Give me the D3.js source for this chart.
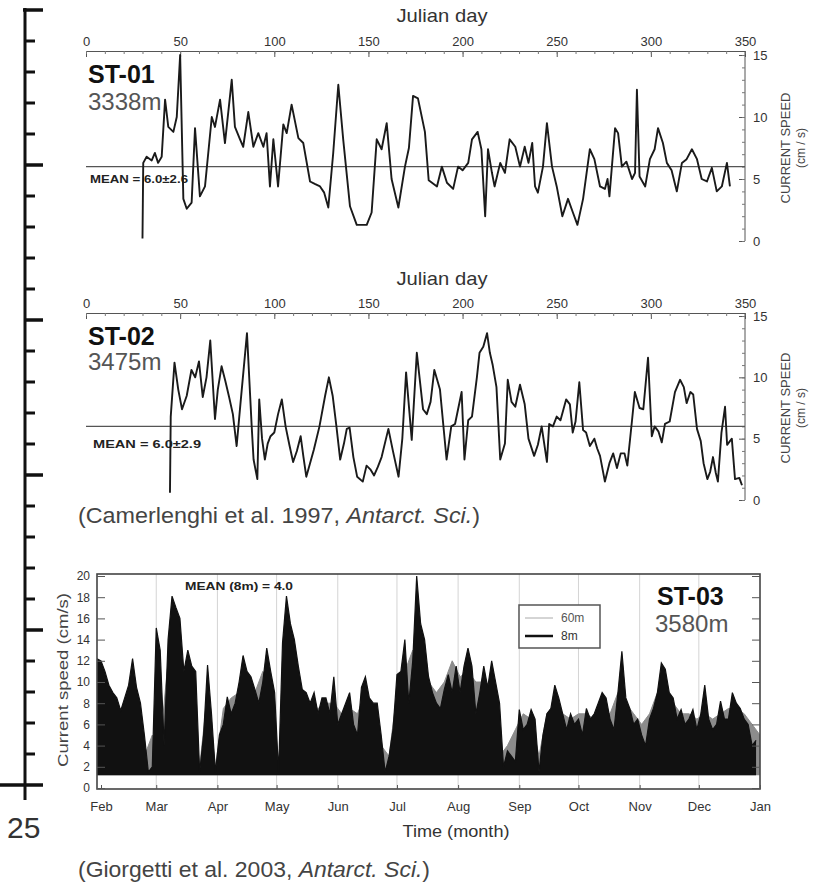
<!DOCTYPE html>
<html><head><meta charset="utf-8">
<script src="https://cdn.jsdelivr.net/npm/d3@7"></script>
<style>
body{margin:0;background:#fff}
svg text{font-family:"Liberation Sans",Arial,Helvetica,sans-serif}
</style>
</head><body>
<svg id="c" width="820" height="889"></svg>
<script>
// ---------------- DATA ----------------
const rulerDomain = [0, 25];
const rulerLabel = "25";

const julianTicks = [0, 50, 100, 150, 200, 250, 300, 350];
const speedTicks = [0, 5, 10, 15];

// ST-01 (3338 m) Julian day / current speed (cm/s)
const st01Day = [30,30.4,32.2,34.9,36.6,38.3,40.2,42,43.7,46.4,48.2,50,51.7,53.5,56.1,57.9,60.5,63.2,66.8,68.5,71.2,73.8,77.4,79.1,81.8,83.5,86.2,88.9,91.5,94.2,95.9,97.7,99.5,102,104.8,106.6,109.2,112.8,115.4,119,121.5,124.3,126.5,128.7,131.3,134,136.6,140.2,143.8,149.1,151.7,154.4,157,159.7,162.3,165.9,169.4,171.5,173.7,176.3,180,182,186.4,189,191.7,195,197.6,200,203,205,208,210,212,213.5,215.6,217,220,222.5,225,228,230.5,233,235,237,238.5,240,242.7,244.8,247.5,250,253,256,258.6,261,264,267.6,270,273,275.6,277,278,281,282.6,284.6,287,290,291.6,292.6,294,297,299.5,302,303.8,306.4,308.5,311,313.8,316.5,319,321.8,324.5,327,329.8,332.4,335,337.7,340.4,342];
const st01Speed = [0.2,6.3,6.8,6.5,7.1,6.3,6.8,11.4,9.2,8.8,10,15,3.4,2.6,3.1,9.1,3.6,4.4,10,9.2,11.4,7.9,13,9.2,8.2,7.6,10.4,7.6,8.7,7.6,8.7,4.4,8.2,4.4,9.4,8.7,11,8.3,7.9,4.8,4.6,4.4,3.9,2.7,7.1,12.6,8.2,2.8,1.3,1.3,2.3,8.2,7.4,9.5,5,2.7,6,7.5,11.7,11.5,8.8,4.9,4.4,6,4.7,4.2,6,5.7,6.3,8.2,8.8,7.4,2.0,7.4,5.5,4.4,6.3,5.5,8.2,7.6,6,7.6,6.3,7.9,4.4,3.9,6,9.5,6,4.4,2.0,3.4,2.3,1.3,3.4,7.4,6.6,4.4,4.2,5,3.6,9.1,8.7,6,6.4,5,5.5,12.2,5.2,4.4,6.6,7.4,9.1,7.9,6.3,5.7,4.0,6.3,6.6,7.4,6.6,5,4.8,5.9,4,4.4,6.3,4.4];
const st01Mean = 6.0;
const st01MeanLabel = "MEAN = 6.0±2.6";

// ST-02 (3475 m)
const st02Day = [44.6,45,47,49,51,53.5,56,58,60,62,64,66,68.5,70,72,74,76,78,80,82,85.5,88,89,91,92,93.5,95,96.5,98,100,102,104,106,108,110,112,114,115.5,117,119,121,124,127,129,131,133,135,137,138.5,140,142,144,147,149,151,153,155,157,160.6,163,166,168,170,173,175.7,179,181,183,185,188,191.5,194,196,199.5,201,203,205,207.6,209,211,213,214.5,216,218,220,222.5,224,226,228,230.5,233,235,238,240,242,244.8,246,248,250,252,255,257,258.5,260,262,264,265.6,267.6,270,271.5,273,275.6,278,280,282,284,286,287.5,290,291.5,294,296,298.5,300.5,302,304,305.8,307.5,310,312.8,315.5,317.5,319,321,322.5,324.5,326.5,328,330,331.5,333,334.5,335.6,337.5,339.4,340.5,342,343,344.7,347,348.4];
const st02Speed = [0.6,6.8,11.2,9,7.4,8.5,10.6,10,11.3,8.4,10,13,6.6,9,10.9,9.7,8.4,7,4.4,7.8,13.6,6,3.3,1.7,8.2,5,3.3,4.6,5.2,5.5,7,8.2,6,4.5,3.1,4,5.2,3.5,1.9,3,4.1,6,8.5,10,8.5,6,3.3,4.6,5.8,5.9,3.5,1.9,1.5,2.8,2.5,2,2.7,3.5,5.8,4,1.9,5,10.4,4.9,12,7.4,7,8,10.6,9,3.3,6,6.2,8.8,3.3,6.5,6.8,10,12,12.5,13.6,12,11,9.2,3.3,4.6,9.8,8,7.6,9.4,7.8,5,3.6,4.5,6,3.1,6.2,6,6.8,6.5,8.2,7.8,5.5,6.4,9.6,5.7,5.5,4.4,5,4.2,3.6,1.5,3,3.8,2.6,3.8,3.8,2.8,6.5,8.8,7.5,7.4,11.6,5.2,6,5.6,4.7,6.2,6.4,8.8,9.8,9.2,7.9,8.8,8.6,5.8,4.8,3,1.7,2.3,3.5,2.2,1.5,5.5,7.6,4.5,4.8,5,1.7,1.8,1.2];
const st02Mean = 6.0;
const st02MeanLabel = "MEAN = 6.0±2.9";

// ST-03 (3580 m): peak speeds read every 2 days (8 m) / 4 days (60 m), from 30 Jan
const st03Months = ["Feb","Mar","Apr","May","Jun","Jul","Aug","Sep","Oct","Nov","Dec","Jan"];
const st03SpeedTicks = [0,2,4,6,8,10,12,14,16,18,20];
const st03Peak8m = [
 12.2,12.0,11,9.7,9,8.5,7.3,8.5,9.7,12.2,
 9.5,8,5,1.5,2,15.1,13,4,14,18.1,
 17,16,11,13,11.5,11,1.5,5,11.6,7,
 1.5,5,6,8.6,7,8,10,12.5,11,10.5,
 9.3,8,10,13.2,11,9,1.5,13.7,18.1,15.5,
 14,11.5,9.3,9,8,9,7,8.5,8.5,7,
 10.5,6,7,8,9,6,5,9.5,10.5,8.5,
 8,8,5,1.5,3,5.5,10.7,11,14,8,
 12,20,15.5,14,10.5,9,8,7.5,9.3,10.7,
 9,11.5,9,11.5,13.2,11.5,7,9,11.5,9.5,
 12,10,8,2,3.5,3,2.5,7.4,5.5,6,
 7.4,6.5,1.5,5,7,7.5,9.7,8.5,7,5.5,
 7,6,6.5,5,7.5,6.5,7,8,9,8.5,
 6.5,5.5,9,12.9,8.5,7.5,6,6.5,5,4,
 6.5,7.5,9,11.8,11.2,9,8.5,6.5,7.4,6,
 6.5,7.4,5.5,7,9.7,6.5,5.5,6,8.2,6.5,
 6.5,9,8,7.5,6.5,6,4,4.5];
const st03Peak60m = [
 10,9,8,7,8,8,3,5,4,12,
 14,11,10,2,9,2,7.5,8.5,9,10,
 9,11,10,2,14,12,9,8,7.5,8,
 8,7,7.5,7,9,7,4,3,9,11,
 13,12,10,9,10,12,10.5,11,10,10,
 9,3,4,5.5,7,6.5,3,7,8,7,
 6.5,7,7,6.5,7.5,7,9,8,7,6,
 7,9,9.5,8,7,7,6.5,7,6.5,7,
 7.5,7.5,7,6,5];
const st03Floor = 1.2;
const st03MeanLabel = "MEAN (8m) = 4.0";
const st03Legend = ["60m", "8m"];

// ---------------- DRAW ----------------
const svg = d3.select("#c");
const FONT = '"Liberation Sans", Arial, Helvetica, sans-serif';

function styleAxis(g, size, fill, stroke) {
  g.attr("font-family", FONT).attr("font-size", size);
  g.selectAll("text").attr("fill", fill);
  g.selectAll("line").attr("stroke", stroke);
  g.selectAll("path.domain").attr("stroke", stroke);
}

// ---- left ruler ----
const ruler = d3.scaleLinear().domain(rulerDomain).range([10, 785]);
const gR = svg.append("g");
gR.append("line").attr("x1", 25).attr("x2", 25).attr("y1", 8).attr("y2", 800)
  .attr("stroke", "#111").attr("stroke-width", 3);
gR.selectAll("line.tk").data(d3.range(rulerDomain[0], rulerDomain[1] + 1)).join("line")
  .attr("class", "tk")
  .attr("x1", d => d === rulerDomain[1] ? 0 : (d === rulerDomain[0] ? 23 : 25))
  .attr("x2", d => d % 5 === 0 ? 43 : 35)
  .attr("y1", d => ruler(d)).attr("y2", d => ruler(d))
  .attr("stroke", "#111").attr("stroke-width", d => d % 5 === 0 ? 3.5 : 3);
gR.append("text").attr("x", 7).attr("y", 838).attr("font-size", 30).attr("fill", "#333")
  .text(rulerLabel);

// ---- ST-01 / ST-02 panels ----
const xJ = d3.scaleLinear().domain([0, 350]).range([86, 745]);

function julianPanel(cfg) {
  const y = d3.scaleLinear().domain([0, 15]).range([cfg.yZero, cfg.yTop]);
  const g = svg.append("g");
  g.append("text").attr("x", 442).attr("y", cfg.titleY).attr("text-anchor", "middle")
    .attr("font-size", 19).attr("fill", "#333").attr("textLength", 91)
    .attr("lengthAdjust", "spacingAndGlyphs").text("Julian day");
  const ax = g.append("g").attr("transform", `translate(0,${cfg.axisY})`)
    .call(d3.axisTop(xJ).tickValues(julianTicks).tickSizeInner(-6).tickSizeOuter(0).tickPadding(5));
  styleAxis(ax, 13, "#333", "#555");
  const axm = g.append("g").attr("transform", `translate(0,${cfg.axisY})`)
    .call(d3.axisTop(xJ).tickValues(d3.range(0, 351, 10)).tickSize(-3).tickFormat(""));
  axm.select(".domain").remove();
  styleAxis(axm, 13, "#333", "#777");
  g.append("line").attr("x1", 745).attr("x2", 745).attr("y1", cfg.axisY).attr("y2", y(0))
    .attr("stroke", "#555").attr("stroke-width", 1);
  const ay = g.append("g").attr("transform", "translate(745,0)")
    .call(d3.axisRight(y).tickValues(speedTicks).tickSizeInner(-6).tickSizeOuter(0).tickPadding(8));
  ay.select(".domain").remove();
  styleAxis(ay, 13, "#333", "#555");
  const aym = g.append("g").attr("transform", "translate(745,0)")
    .call(d3.axisRight(y).tickValues(d3.range(0, 16)).tickSize(-3).tickFormat(""));
  aym.select(".domain").remove();
  styleAxis(aym, 13, "#333", "#777");
  const cy = (y(0) + y(15)) / 2;
  g.append("text").attr("transform", `translate(790,${cy}) rotate(-90)`)
    .attr("text-anchor", "middle").attr("font-size", 13).attr("fill", "#444")
    .text("CURRENT SPEED");
  g.append("text").attr("transform", `translate(805,${cy}) rotate(-90)`)
    .attr("text-anchor", "middle").attr("font-size", 12).attr("fill", "#444")
    .text("(cm / s)");
  g.append("line").attr("x1", xJ(0)).attr("x2", xJ(350))
    .attr("y1", y(cfg.mean)).attr("y2", y(cfg.mean))
    .attr("stroke", "#555").attr("stroke-width", 1.2);
  g.append("text").attr("x", cfg.meanX).attr("y", cfg.meanY).attr("font-size", 10)
    .attr("font-weight", "bold").attr("fill", "#222")
    .attr("textLength", cfg.meanW).attr("lengthAdjust", "spacingAndGlyphs").text(cfg.meanLabel);
  const pts = d3.zip(cfg.days, cfg.speeds);
  g.append("path").datum(pts)
    .attr("d", d3.line().x(d => xJ(d[0])).y(d => y(d[1])))
    .attr("fill", "none").attr("stroke", "#1a1a1a").attr("stroke-width", 1.9)
    .attr("stroke-linejoin", "round");
  g.append("text").attr("x", 88).attr("y", cfg.nameY).attr("font-size", 25)
    .attr("font-weight", "bold").attr("fill", "#111").text(cfg.name);
  g.append("text").attr("x", 88).attr("y", cfg.depthY).attr("font-size", 24)
    .attr("fill", "#555").text(cfg.depth);
}

julianPanel({titleY: 22, axisY: 51, yZero: 241, yTop: 55, mean: st01Mean,
  meanX: 90, meanY: 183, meanW: 98, meanLabel: st01MeanLabel,
  days: st01Day, speeds: st01Speed, name: "ST-01", depth: "3338m", nameY: 83, depthY: 110});
julianPanel({titleY: 285, axisY: 313, yZero: 500, yTop: 316, mean: st02Mean,
  meanX: 93, meanY: 448, meanW: 108, meanLabel: st02MeanLabel,
  days: st02Day, speeds: st02Speed, name: "ST-02", depth: "3475m", nameY: 345, depthY: 370});

function citation(y, pre, ital, len) {
  const t = svg.append("text").attr("x", 78).attr("y", y).attr("font-size", 22).attr("fill", "#444")
    .attr("textLength", len).attr("lengthAdjust", "spacingAndGlyphs");
  t.append("tspan").text(pre);
  t.append("tspan").attr("font-style", "italic").text(ital);
  t.append("tspan").text(")");
}
citation(523, "(Camerlenghi et al. 1997, ", "Antarct. Sci.", 402);

// ---- ST-03 panel ----
const t0 = new Date(2001, 1, 1), t1 = new Date(2002, 0, 1);
const xT = d3.scaleTime().domain([t0, t1]).range([101, 760]);
const yT = d3.scaleLinear().domain([0, 20]).range([788, 576]);
const fL = 97, fR = 760, fT = 574, fB = 789;
const g3 = svg.append("g");
g3.append("defs").append("clipPath").attr("id", "clip3").append("rect")
  .attr("x", fL).attr("y", fT).attr("width", fR - fL).attr("height", fB - fT);
g3.selectAll("line.grid").data(d3.timeMonth.range(new Date(2001, 2, 1), t1)).join("line")
  .attr("class", "grid").attr("x1", d => xT(d)).attr("x2", d => xT(d))
  .attr("y1", fT).attr("y2", fB).attr("stroke", "#d4d4d4").attr("stroke-width", 1);
const start3 = new Date(2001, 0, 30);
const p60 = st03Peak60m.map((v, i) => ({date: d3.timeDay.offset(start3, 4 * i), v}));
const p8 = st03Peak8m.map((v, i) => ({date: d3.timeDay.offset(start3, 2 * i), v}));
const area3 = d3.area().x(d => xT(d.date)).y0(yT(st03Floor)).y1(d => yT(d.v));
const line3 = d3.line().x(d => xT(d.date)).y(d => yT(d.v));
const gs = g3.append("g").attr("clip-path", "url(#clip3)");
gs.append("path").datum(p60).attr("d", area3).attr("fill", "#8c8c8c");
gs.append("path").datum(p60).attr("d", line3).attr("fill", "none").attr("stroke", "#8c8c8c").attr("stroke-width", 1);
gs.append("path").datum(p8).attr("d", area3).attr("fill", "#111");
gs.append("path").datum(p8).attr("d", line3).attr("fill", "none").attr("stroke", "#111").attr("stroke-width", 1.2);
g3.append("rect").attr("x", fL).attr("y", fT).attr("width", fR - fL).attr("height", fB - fT)
  .attr("fill", "none").attr("stroke", "#444").attr("stroke-width", 1.6);
const axL = g3.append("g").attr("transform", `translate(${fL},0)`)
  .call(d3.axisLeft(yT).tickValues(st03SpeedTicks).tickSizeInner(-8).tickSizeOuter(0).tickPadding(7));
axL.select(".domain").remove();
styleAxis(axL, 12, "#333", "#555");
const axR = g3.append("g").attr("transform", `translate(${fR},0)`)
  .call(d3.axisRight(yT).tickValues(st03SpeedTicks).tickSizeInner(-8).tickSizeOuter(0).tickFormat(""));
axR.select(".domain").remove();
styleAxis(axR, 12, "#333", "#555");
const monthTicks = d3.timeMonth.range(t0, d3.timeDay.offset(t1, 1));
const axB = g3.append("g").attr("transform", `translate(0,${fB})`)
  .call(d3.axisBottom(xT).tickValues(monthTicks).tickSizeInner(-4).tickSizeOuter(0).tickPadding(13)
    .tickFormat((d, i) => st03Months[i]));
axB.select(".domain").remove();
styleAxis(axB, 13, "#333", "#555");
g3.append("text").attr("x", 456).attr("y", 837).attr("text-anchor", "middle").attr("font-size", 16)
  .attr("fill", "#333").attr("textLength", 107).attr("lengthAdjust", "spacingAndGlyphs").text("Time (month)");
g3.append("text").attr("transform", "translate(68,680) rotate(-90)").attr("text-anchor", "middle")
  .attr("font-size", 15).attr("fill", "#444").attr("textLength", 174).attr("lengthAdjust", "spacingAndGlyphs")
  .text("Current speed (cm/s)");
g3.append("text").attr("x", 185).attr("y", 590).attr("font-size", 10).attr("font-weight", "bold")
  .attr("fill", "#222").attr("textLength", 108).attr("lengthAdjust", "spacingAndGlyphs").text(st03MeanLabel);
const lg = g3.append("g");
lg.append("rect").attr("x", 519).attr("y", 605).attr("width", 81).attr("height", 43)
  .attr("fill", "#fff").attr("stroke", "#555").attr("stroke-width", 1.5);
lg.append("line").attr("x1", 525).attr("x2", 553).attr("y1", 618).attr("y2", 618)
  .attr("stroke", "#aaa").attr("stroke-width", 1);
lg.append("line").attr("x1", 525).attr("x2", 553).attr("y1", 636).attr("y2", 636)
  .attr("stroke", "#111").attr("stroke-width", 2.5);
lg.append("text").attr("x", 561).attr("y", 622).attr("font-size", 12).attr("fill", "#555").text(st03Legend[0]);
lg.append("text").attr("x", 561).attr("y", 640).attr("font-size", 12).attr("fill", "#333").text(st03Legend[1]);
g3.append("text").attr("x", 657).attr("y", 605).attr("font-size", 25).attr("font-weight", "bold")
  .attr("fill", "#111").text("ST-03");
g3.append("text").attr("x", 655).attr("y", 632).attr("font-size", 24).attr("fill", "#555").text("3580m");

citation(877, "(Giorgetti et al. 2003, ", "Antarct. Sci.", 352);
</script>
</body></html>
